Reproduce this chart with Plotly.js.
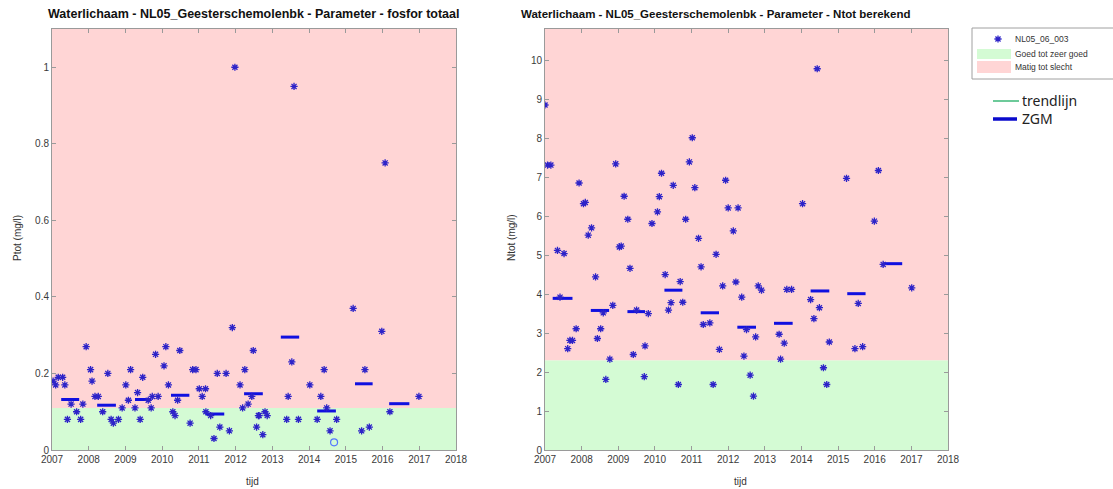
<!DOCTYPE html>
<html>
<head>
<meta charset="utf-8">
<script src="https://cdn.plot.ly/plotly-3.0.1.min.js"></script>
<style>html,body{margin:0;padding:0;background:#fff;}#chart{width:1113px;height:489px;}</style>
</head>
<body>
<div id="chart"></div>
<script>
// ---------- data ----------
const years = [2007,2008,2009,2010,2011,2012,2013,2014,2015,2016,2017,2018];

const pYears = [2007.03,2007.10,2007.17,2007.29,2007.35,2007.42,2007.52,2007.67,2007.78,2007.84,2007.93,
  2008.05,2008.09,2008.17,2008.26,2008.38,2008.52,2008.61,2008.67,2008.81,2008.91,
  2009.01,2009.08,2009.14,2009.26,2009.33,2009.40,2009.47,2009.62,2009.70,2009.73,2009.82,2009.89,
  2010.05,2010.10,2010.17,2010.29,2010.35,2010.42,2010.48,2010.76,2010.83,2010.92,
  2011.01,2011.09,2011.18,2011.19,2011.32,2011.41,2011.50,2011.57,2011.74,2011.83,2011.91,2011.98,
  2012.12,2012.19,2012.25,2012.34,2012.44,2012.48,2012.57,2012.62,2012.64,2012.74,2012.80,2012.86,
  2013.39,2013.43,2013.53,2013.59,2013.71,
  2014.02,2014.22,2014.32,2014.41,2014.48,2014.57,2014.75,
  2015.20,2015.43,2015.52,2015.64,2015.98,
  2016.07,2016.20,2016.99];
const pValues = [0.18,0.17,0.19,0.19,0.17,0.08,0.12,0.10,0.08,0.12,0.27,
  0.21,0.18,0.14,0.14,0.10,0.20,0.08,0.07,0.08,0.11,
  0.17,0.13,0.21,0.11,0.15,0.08,0.19,0.13,0.11,0.14,0.25,0.14,
  0.22,0.27,0.17,0.10,0.09,0.13,0.26,0.07,0.21,0.21,
  0.16,0.14,0.16,0.10,0.09,0.03,0.20,0.06,0.20,0.05,0.32,1.00,
  0.17,0.11,0.21,0.12,0.14,0.26,0.06,0.09,0.09,0.04,0.10,0.09,
  0.08,0.14,0.23,0.95,0.08,
  0.17,0.08,0.14,0.21,0.11,0.05,0.08,
  0.37,0.05,0.21,0.06,0.31,
  0.75,0.10,0.14];
const pCircleYears = [2014.68];
const pCircleValues = [0.02];

const pZgmStart = [2007.25,2008.23,2009.26,2010.24,2011.18,2012.23,2013.23,2014.22,2015.25,2016.18];
const pZgmEnd   = [2007.74,2008.74,2009.70,2010.74,2011.69,2012.74,2013.73,2014.73,2015.73,2016.73];
const pZgmValue = [0.132,0.117,0.132,0.143,0.094,0.147,0.295,0.102,0.173,0.121];

const nYears = [2007.00,2007.07,2007.16,2007.34,2007.41,2007.52,2007.62,2007.68,2007.75,2007.85,2007.93,
  2008.05,2008.10,2008.18,2008.27,2008.38,2008.43,2008.52,2008.59,2008.66,2008.77,2008.85,2008.93,
  2009.03,2009.08,2009.16,2009.26,2009.32,2009.41,2009.50,2009.71,2009.73,2009.82,2009.92,
  2010.07,2010.12,2010.18,2010.28,2010.37,2010.44,2010.50,2010.64,2010.69,2010.76,2010.84,2010.94,
  2011.02,2011.09,2011.19,2011.26,2011.32,2011.50,2011.59,2011.67,2011.76,2011.85,2011.93,
  2012.00,2012.14,2012.21,2012.27,2012.37,2012.43,2012.50,2012.60,2012.69,2012.75,2012.82,2012.91,
  2013.39,2013.43,2013.53,2013.60,2013.73,
  2014.03,2014.25,2014.34,2014.43,2014.49,2014.60,2014.69,2014.76,
  2015.23,2015.46,2015.55,2015.67,2015.99,
  2016.10,2016.23,2017.01];
const nValues = [8.85,7.31,7.31,5.12,3.92,5.04,2.60,2.81,2.81,3.11,6.85,
  6.32,6.35,5.51,5.70,4.44,2.86,3.11,3.52,1.81,2.33,3.71,7.34,
  5.21,5.23,6.51,5.92,4.66,2.45,3.59,1.88,2.67,3.50,5.81,
  6.11,6.50,7.10,4.50,3.59,3.78,6.79,1.68,4.32,3.79,5.92,7.39,
  8.01,6.73,5.43,4.70,3.22,3.26,1.68,5.02,2.58,4.21,6.92,
  6.21,5.62,4.31,6.21,3.92,2.41,3.09,1.92,1.38,2.90,4.21,4.10,
  2.97,2.33,2.74,4.12,4.12,
  6.32,3.86,3.37,9.78,3.65,2.11,1.68,2.77,
  6.97,2.60,3.76,2.65,5.87,
  7.17,4.76,4.16];

const nZgmStart = [2007.21,2008.25,2009.25,2010.26,2011.25,2012.25,2013.25,2014.25,2015.25,2016.23];
const nZgmEnd   = [2007.75,2008.75,2009.73,2010.75,2011.75,2012.76,2013.76,2014.76,2015.75,2016.75];
const nZgmValue = [3.89,3.58,3.55,4.10,3.52,3.15,3.25,4.08,4.01,4.78];

const pThreshold = 0.11, pMax = 1.1;
const nThreshold = 2.3,  nMax = 10.8;

const pTicks = [0,0.2,0.4,0.6,0.8,1];
const pTickText = ['0','0.2','0.4','0.6','0.8','1'];
const nTicks = [0,1,2,3,4,5,6,7,8,9,10];

const seriesName = 'NL05_06_003';
const goodName = 'Goed tot zeer goed';
const badName = 'Matig tot slecht';

// ---------- styles ----------
const GREEN = '#d4fbd4', PINK = '#ffd5d5';
const MARK = 'rgb(45,35,200)';
const ZGM = '#1010e0';

function segs(s, e, v) {
  const x = [], y = [];
  for (let i = 0; i < s.length; i++) { x.push(s[i], e[i], null); y.push(v[i], v[i], null); }
  return {x, y};
}
function band(y0, y1, name, color, xa, ya) {
  const x0 = years[0], x1 = years[years.length - 1];
  return {x: [x0, x1, x1, x0, x0], y: [y0, y0, y1, y1, y0], fill: 'toself', fillcolor: color,
    mode: 'lines', line: {width: 0, color: color}, name: name, xaxis: xa, yaxis: ya,
    showlegend: false, hoverinfo: 'skip'};
}

const pz = segs(pZgmStart, pZgmEnd, pZgmValue);
const nz = segs(nZgmStart, nZgmEnd, nZgmValue);

const markerStyle = {symbol: 'asterisk-open', size: 6, color: MARK, line: {color: MARK, width: 1.3}};

const W = 1113, H = 489;
const px = v => v / W, py = v => 1 - v / H;

// legend box in pixel coordinates (separate helper axes)
const LG = {x0: 972, x1: 1116, y0: 28, y1: 79};

const traces = [
  band(0, pThreshold, goodName, GREEN, 'x', 'y'),
  band(pThreshold, pMax, badName, PINK, 'x', 'y'),
  band(0, nThreshold, goodName, GREEN, 'x2', 'y2'),
  band(nThreshold, nMax, badName, PINK, 'x2', 'y2'),
  {x: pz.x, y: pz.y, mode: 'lines', line: {color: ZGM, width: 3}, xaxis: 'x', yaxis: 'y', showlegend: false},
  {x: nz.x, y: nz.y, mode: 'lines', line: {color: ZGM, width: 3}, xaxis: 'x2', yaxis: 'y2', showlegend: false},
  {x: pYears, y: pValues, mode: 'markers', marker: markerStyle, name: seriesName, xaxis: 'x', yaxis: 'y', showlegend: false},
  {x: pCircleYears, y: pCircleValues, mode: 'markers', marker: {symbol: 'circle-open', size: 7, color: '#5577ff', line: {width: 1.2}}, xaxis: 'x', yaxis: 'y', showlegend: false},
  {x: nYears, y: nValues, mode: 'markers', marker: markerStyle, name: seriesName, xaxis: 'x2', yaxis: 'y2', showlegend: false},
  // legend sample marker
  {x: [998], y: [39], mode: 'markers', marker: markerStyle, xaxis: 'x3', yaxis: 'y3', showlegend: false, hoverinfo: 'skip'}
];

const axisCommon = {showline: true, linecolor: '#9a9a9a', linewidth: 1, mirror: 'ticks', ticks: 'inside',
  ticklen: 4, tickcolor: '#9a9a9a', showgrid: false, zeroline: false,
  tickfont: {family: 'Liberation Sans, Arial, sans-serif', size: 10, color: '#3a3a3a'}};

const tFontL = {family: 'Liberation Sans, Arial, sans-serif', size: 12.5, color: '#111'};
const tFontR = {family: 'Liberation Sans, Arial, sans-serif', size: 11.5, color: '#111'};
const lFont = {family: 'Liberation Sans, Arial, sans-serif', size: 10, color: '#333'};
const legFont = {family: 'Liberation Sans, Arial, sans-serif', size: 8.5, color: '#333'};
const bigFont = {family: 'Noto Sans, Open Sans, sans-serif', size: 14, color: '#222'};

function ann(text, x, y, font, extra) {
  return Object.assign({text: text, x: px(x), y: py(y), xref: 'paper', yref: 'paper', showarrow: false,
    font: font, xanchor: 'center', yanchor: 'middle'}, extra || {});
}
function rect(x0, y0, x1, y1, fill, lineColor) {
  return {type: 'rect', xref: 'paper', yref: 'paper', x0: px(x0), x1: px(x1), y0: py(y0), y1: py(y1),
    fillcolor: fill, line: {color: lineColor || fill, width: lineColor ? 1 : 0}, layer: 'below'};
}

const layout = {
  width: W, height: H, margin: {l: 0, r: 0, t: 0, b: 0},
  paper_bgcolor: '#fff', plot_bgcolor: 'rgba(0,0,0,0)',
  showlegend: false,
  xaxis: Object.assign({}, axisCommon, {domain: [px(52), px(456)], range: [years[0], years[years.length-1]], tickvals: years, anchor: 'y'}),
  yaxis: Object.assign({}, axisCommon, {domain: [py(450), py(29)], range: [0, pMax], tickvals: pTicks, ticktext: pTickText, anchor: 'x'}),
  xaxis2: Object.assign({}, axisCommon, {domain: [px(545), px(948)], range: [years[0], years[years.length-1]], tickvals: years, anchor: 'y2'}),
  yaxis2: Object.assign({}, axisCommon, {domain: [py(450), py(29)], range: [0, nMax], tickvals: nTicks, anchor: 'x2'}),
  xaxis3: {domain: [px(LG.x0), 1], range: [LG.x0, W], visible: false, fixedrange: true, anchor: 'y3'},
  yaxis3: {domain: [py(LG.y1), py(LG.y0)], range: [LG.y1, LG.y0], visible: false, fixedrange: true, anchor: 'x3'},
  annotations: [
    ann('<b>Waterlichaam - NL05_Geesterschemolenbk - Parameter - fosfor totaal</b>', 253, 14, tFontL),
    ann('<b>Waterlichaam - NL05_Geesterschemolenbk - Parameter - Ntot berekend</b>', 715, 14, tFontR),
    ann('Ptot (mg/l)', 18, 238, lFont, {textangle: -90}),
    ann('Ntot (mg/l)', 512, 238, lFont, {textangle: -90}),
    ann('tijd', 252, 481, lFont),
    ann('tijd', 741, 481, lFont),
    ann(seriesName, 1013, 39, legFont, {xanchor: 'left'}),
    ann(goodName, 1013, 54, legFont, {xanchor: 'left'}),
    ann(badName, 1013, 67, legFont, {xanchor: 'left'}),
    ann('trendlijn', 1021, 100, bigFont, {xanchor: 'left', borderpad: 0}),
    ann('ZGM', 1021, 119, bigFont, {xanchor: 'left', borderpad: 0})
  ],
  shapes: [
    rect(LG.x0, LG.y0, LG.x1, LG.y1, '#ffffff', '#a0a0a0'),
    rect(977, 49, 1011, 59, GREEN),
    rect(977, 61, 1011, 73, PINK),
    {type: 'line', xref: 'paper', yref: 'paper', x0: px(993), x1: px(1019), y0: py(101), y1: py(101), line: {color: '#3cb878', width: 1.5}},
    {type: 'line', xref: 'paper', yref: 'paper', x0: px(993), x1: px(1017), y0: py(119), y1: py(119), line: {color: '#0a0acc', width: 3.5}}
  ]
};

Plotly.newPlot('chart', traces, layout, {displayModeBar: false, staticPlot: true});
</script>
</body>
</html>
